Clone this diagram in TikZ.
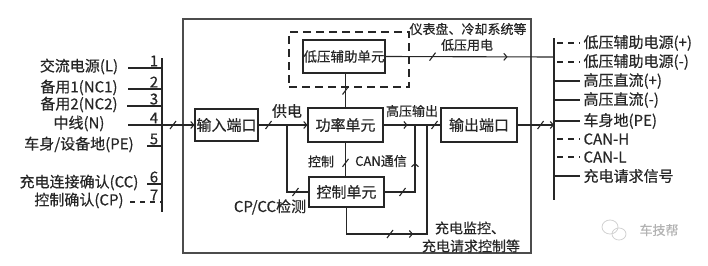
\documentclass[tikz,border=0pt]{standalone}
\usepackage{fontspec}
\setmainfont{Noto Sans CJK SC}[FakeBold=0.5]
\usetikzlibrary{arrows.meta,decorations.markings}
\definecolor{ink}{HTML}{262626}
\tikzset{
  tickat/.style={postaction={decorate,decoration={markings,
    mark=at position #1 with {\pgftransformresetnontranslations
      \draw[-,solid] (-3pt,-4pt) -- (3pt,4pt);}}}},
  arrowat/.style={postaction={decorate,decoration={markings,
    mark=at position #1 with {\arrow{Straight Barb[length=3pt,width=7pt]}}}}},
}
\begin{document}
\begin{tikzpicture}[x=1pt, y=-1pt, color=ink, line width=1.1pt,
    >={Straight Barb[length=3pt,width=7pt]},
    unitbox/.style={draw, inner sep=0pt, font=\fontsize{15}{17}\selectfont},
    pin/.style={inner sep=0pt, font=\fontsize{15}{17}\selectfont},
    lab/.style={inner sep=0pt, font=\fontsize{13}{15}\selectfont},
    labmid/.style={inner sep=0pt, font=\fontsize{14}{16}\selectfont},
    rsolid/.style={},
    rdash/.style={dash pattern=on 6pt off 5pt, dash phase=8pt}]
  \useasboundingbox (0,0) rectangle (708,265);
  % housing of the charging unit
  \draw[line width=1.6pt, gray!60!black] (183,19) rectangle (531,253);
  \node[unitbox, minimum width=63pt, minimum height=32pt] (inport) at (226.5,125) {输入端口};
  \node[unitbox, minimum width=75pt, minimum height=34pt] (power) at (345.5,125) {功率单元};
  \node[unitbox, minimum width=82pt, minimum height=33pt,
    font=\fontsize{13.5}{16}\selectfont] (lvaux) at (344,56.5) {低压辅助单元};
  \node[draw, dash pattern=on 8pt off 5pt, minimum width=120pt, minimum height=55pt] (lvzone) at (349,59.5) {};
  \node[unitbox, minimum width=75pt, minimum height=30pt] (ctrl) at (346.5,192) {控制单元};
  \node[unitbox, minimum width=76pt, minimum height=34pt] (outport) at (479,125) {输出端口};
  % input pins
  \draw (162,58) -- (162,212);
  \foreach \y/\n/\x/\txt in {68/1/128/交流电源(L), 89/2/128/备用1(NC1),
      106/3/127/备用2(NC2), 125/4/128/中线(N), 146/5/147/{车身/设备地(PE)},
      184/6/147/充电连接确认(CC)} {
    \node[pin] (pinlab\n) at (79,\y-1.5) {\txt};
    \node[pin] (pinnum\n) at (154,\y-7) {\n};
    \coordinate (pinA\n) at (\x,\y);
    \coordinate (pinB\n) at (162,\y);
    \draw (pinA\n) -- (pinB\n);
  }
  \node[pin] (pinlab7) at (79,200.5) {控制确认(CP)};
  \node[pin] (pinnum7) at (154,195) {7};
  \coordinate (pinA7) at (130,202);
  \coordinate (pinB7) at (162,202);
  \draw[dash pattern=on 5pt off 5pt] (pinA7) -- (pinB7);
  % output pins
  \draw (554,38) -- (554,200);
  \foreach \y/\st/\txt [count=\i] in {43/rdash/低压辅助电源(+), 62/rdash/低压辅助电源(-),
      81/rsolid/高压直流(+), 100/rsolid/高压直流(-), 121/rsolid/车身地(PE),
      139/rdash/CAN-H, 157/rdash/CAN-L, 176/rsolid/充电请求信号} {
    \coordinate (outA\i) at (554,\y);
    \coordinate (outB\i) at (580,\y);
    \draw[\st] (outA\i) -- (outB\i);
    \node[pin, anchor=west] (outlab\i) at (583,\y) {\txt};
  }
  % connections
  \coordinate (inpt) at (162,125);
  \coordinate (feed) at (287,125);
  \coordinate (lvout) at (554,57);
  \coordinate (canup) at (415,125);
  \coordinate (monit) at (427,234);
  \coordinate (hvtap) at (427,125);
  \coordinate (outpt) at (554,125);
  \draw[->, tickat=11pt] (inpt) -- (inport.west);
  \draw[->, tickat=10pt] (inport.east) -- (power.west);
  \draw[tickat=-13pt] (feed) |- (ctrl.west);
  \draw[tickat=0.5] (lvaux.south -| power.north) -- (power.north);
  \draw[tickat=47pt, arrowat=122pt] (lvaux.east) -- (lvout);
  \draw[arrowat=24pt, tickat=51pt] (power.east) -- (outport.west);
  \draw[tickat=0.6] (power.south) -- (power.south |- ctrl.north);
  \draw[tickat=18pt, arrowat=-38pt] (ctrl.east) -| (canup);
  \draw[tickat=70pt, arrowat=93pt] (ctrl.south) |- (monit) -- (hvtap);
  \draw[->, tickat=23pt] (outport.east) -- (outpt);
  % labels
  \node[lab] (lvload1) at (468,29) {仪表盘、冷却系统等};
  \node[lab] (lvload2) at (467,45) {低压用电};
  \node[pin] (feedlab) at (287,111) {供电};
  \node[lab] (hvlab) at (412,111) {高压输出};
  \node[lab] (ctrllab) at (321,161.5) {控制};
  \node[lab] (canlab) at (381,161) {CAN通信};
  \node[pin] (cplab) at (270,207) {CP/CC检测};
  \node[labmid] (monlab1) at (470,228) {充电监控、};
  \node[labmid] (monlab2) at (471,246) {充电请求控制等};
  % watermark
  \draw[gray!35, line width=0.8pt] (610,227) ellipse (8 and 7);
  \draw[gray!35, line width=0.8pt] (619,234) ellipse (7 and 6);
  \node[lab, text=gray!60] (wmark) at (659,230) {车技帮};
\end{tikzpicture}
\end{document}
